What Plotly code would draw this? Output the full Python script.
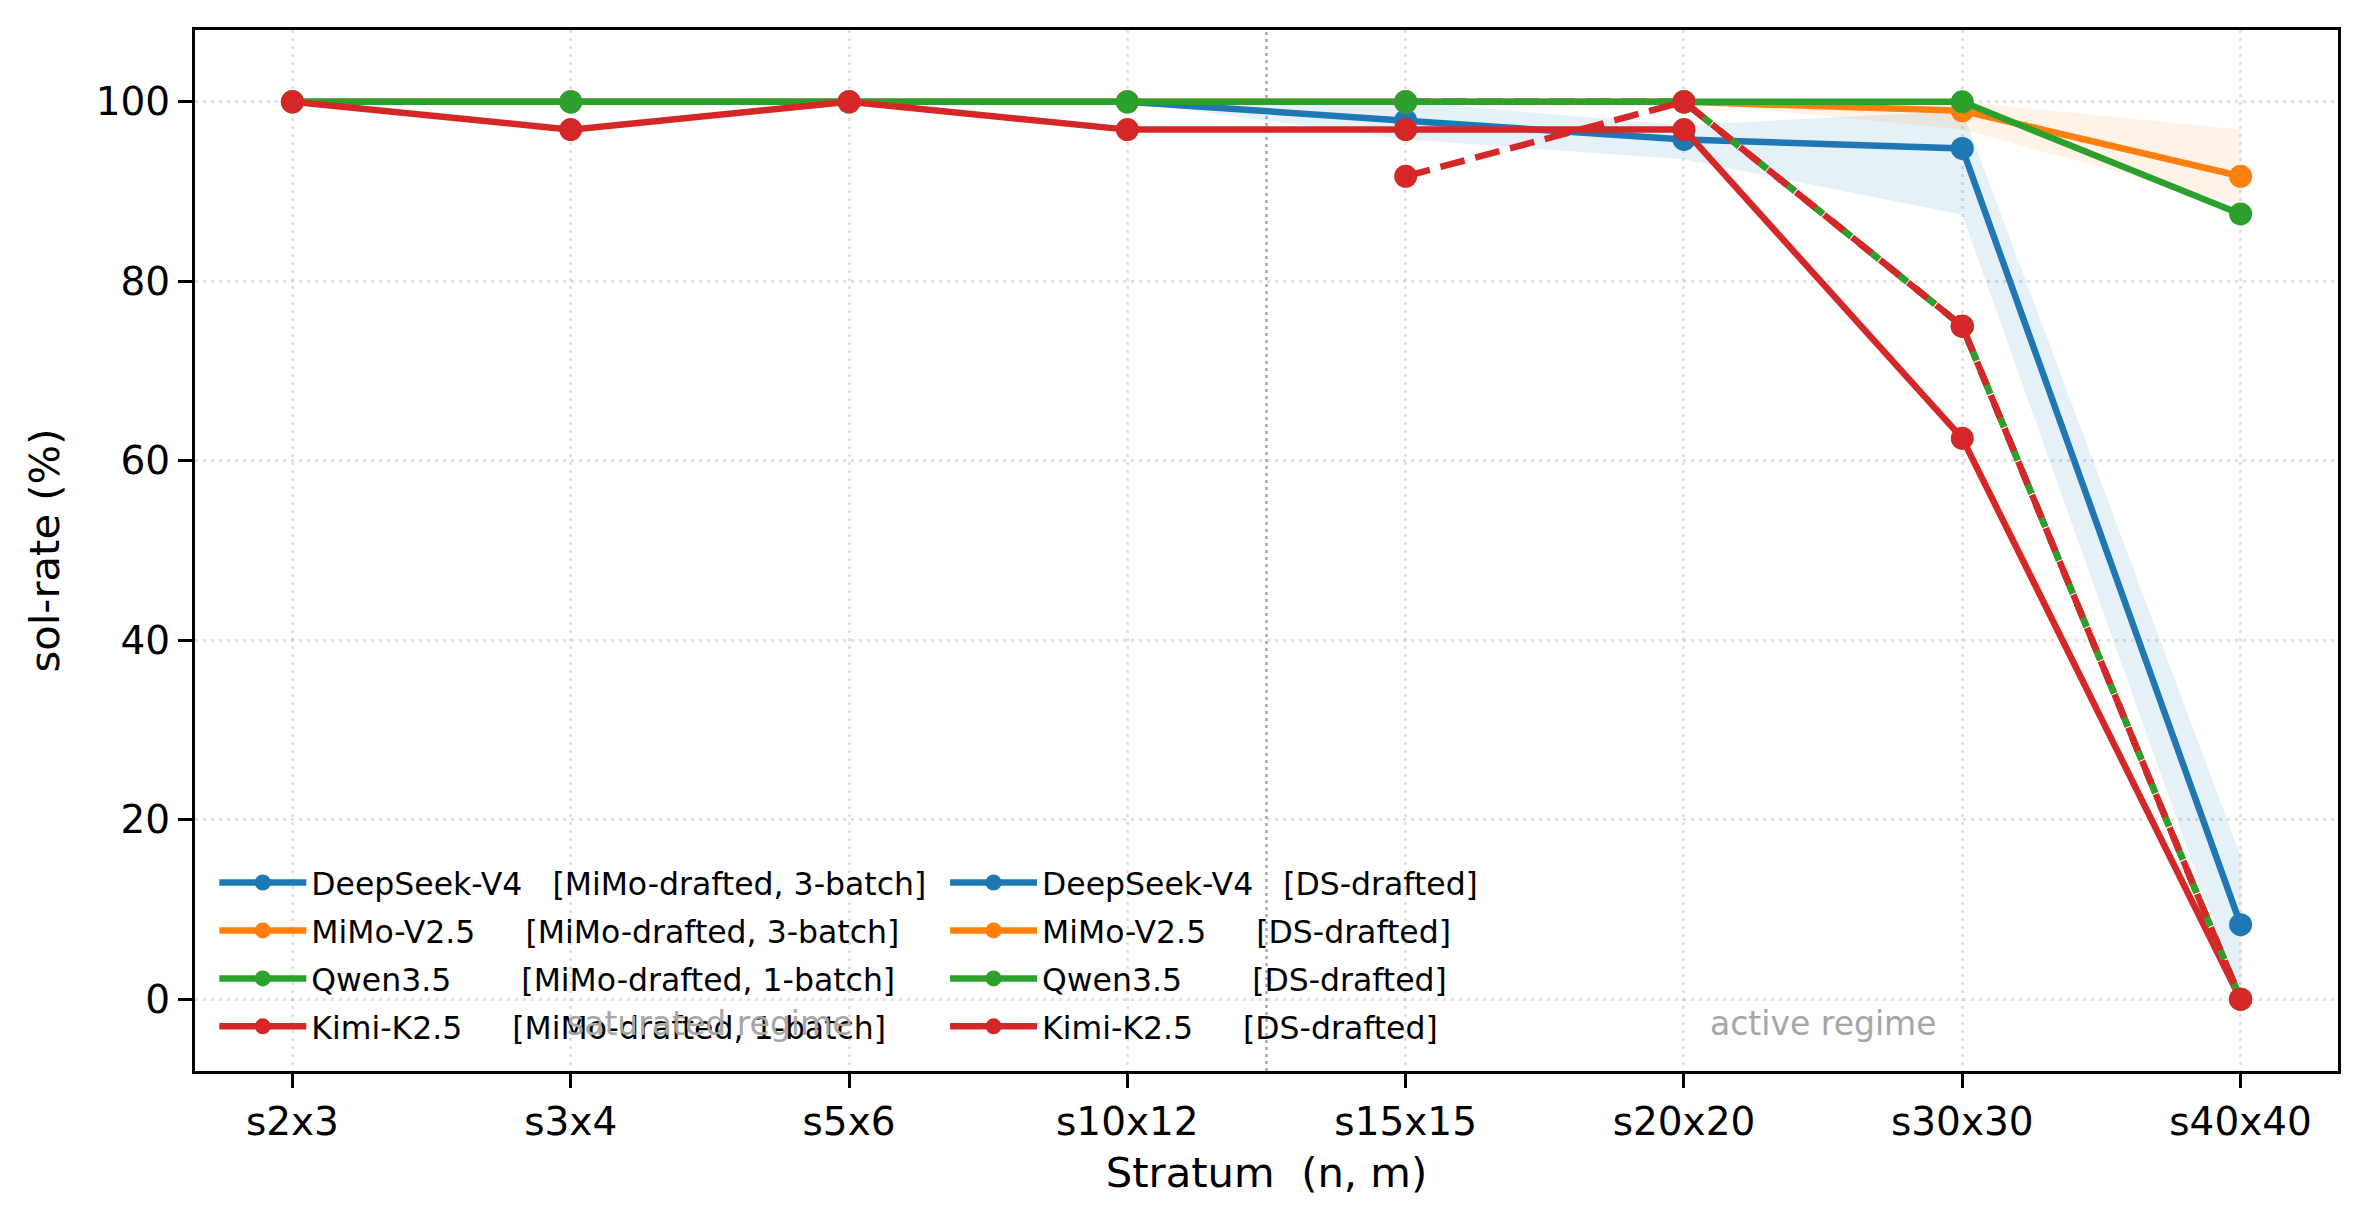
import plotly.graph_objects as go

# ---------------- data ----------------
strata = ["s2x3", "s3x4", "s5x6", "s10x12", "s15x15", "s20x20", "s30x30", "s40x40"]

# MiMo-drafted (solid)
deepseek_mimo = [100, 100, 100, 100, 97.9, 95.8, 94.8, 8.3]
mimo_mimo = [100, 100, 100, 100, 100, 100, 99.0, 91.7]
qwen_mimo = [100, 100, 100, 100, 100, 100, 100, 87.5]
kimi_mimo = [100, 96.9, 100, 96.9, 96.9, 96.9, 62.5, 0.0]

# spread bands for the 3-batch series
deepseek_lo = [100, 100, 100, 100, 95.8, 93.6, 87.4, 0.0]
deepseek_hi = [100, 100, 100, 100, 100, 97.4, 99.0, 16.0]
mimo_lo = [100, 100, 100, 100, 100, 100, 96.9, 88.5]
mimo_hi = [100, 100, 100, 100, 100, 100, 100, 96.9]

# DS-drafted (dashed)
deepseek_ds = [None, None, None, None, 100, 100, 75.0, 0.0]
mimo_ds = [None, None, None, None, 100, 100, 75.0, 0.0]
qwen_ds = [None, None, None, None, 100, 100, 75.0, 0.0]
kimi_ds = [None, None, None, None, 91.7, 100, 75.0, 0.0]

models = ["DeepSeek-V4", "MiMo-V2.5", "Qwen3.5", "Kimi-K2.5"]
mimo_tags = ["[MiMo-drafted, 3-batch]", "[MiMo-drafted, 3-batch]",
             "[MiMo-drafted, 1-batch]", "[MiMo-drafted, 1-batch]"]
ds_tag = "[DS-drafted]"
colors = ["#1f77b4", "#ff7f0e", "#2ca02c", "#d62728"]
band_fill = ["rgba(31,119,180,0.11)", "rgba(255,127,14,0.10)"]

y_ticks = [0, 20, 40, 60, 80, 100]

FONT = "DejaVu Sans"
LW = 6.5
MS = 23
NB = "\u00a0"


def pad(name):
    return name + NB * (14 - len(name))


fig = go.Figure()

# bands
for lo, hi, fc in [(deepseek_lo, deepseek_hi, band_fill[0]), (mimo_lo, mimo_hi, band_fill[1])]:
    fig.add_trace(go.Scatter(x=strata, y=lo, mode="lines", line=dict(width=0, color=fc),
                             showlegend=False, hoverinfo="skip"))
    fig.add_trace(go.Scatter(x=strata, y=hi, mode="lines", line=dict(width=0, color=fc),
                             fill="tonexty", fillcolor=fc, showlegend=False, hoverinfo="skip"))

# solid series
solid = [deepseek_mimo, mimo_mimo, qwen_mimo, kimi_mimo]
for name, tag, vals, c in zip(models, mimo_tags, solid, colors):
    fig.add_trace(go.Scatter(
        x=strata, y=vals, mode="lines+markers",
        name=pad(name) + tag, legend="legend", legendgroup=name + "m",
        line=dict(color=c, width=LW), marker=dict(color=c, size=MS)))

# dashed series
dashed = [deepseek_ds, mimo_ds, qwen_ds, kimi_ds]
for name, vals, c in zip(models, dashed, colors):
    fig.add_trace(go.Scatter(
        x=strata, y=vals, mode="lines+markers", showlegend=False,
        line=dict(color=c, width=LW, dash="25px,11px"), marker=dict(color=c, size=MS)))
    # legend handle (solid, as in the reference)
    fig.add_trace(go.Scatter(
        x=[None], y=[None], mode="lines+markers",
        name=pad(name) + ds_tag, legend="legend2", legendgroup=name + "d",
        line=dict(color=c, width=LW), marker=dict(color=c, size=MS)))

# regime separator
fig.add_shape(type="line", xref="x", yref="paper", x0=3.5, x1=3.5, y0=0, y1=1,
              line=dict(color="#a8a8a8", width=2.5, dash="3px,4px"), layer="below")

fig.add_annotation(x=1.5, y=-2.7, xref="x", yref="y", text="saturated regime",
                   showarrow=False, font=dict(family=FONT, size=33, color="#a6a6a6"))
fig.add_annotation(x=5.5, y=-2.7, xref="x", yref="y", text="active regime",
                   showarrow=False, font=dict(family=FONT, size=33, color="#a6a6a6"))

legend_common = dict(
    bgcolor="rgba(0,0,0,0)", borderwidth=0,
    font=dict(family=FONT, size=31.5, color="black"),
    orientation="v", xanchor="left", yanchor="top",
    tracegroupgap=4, itemwidth=87, traceorder="grouped",
)

fig.update_layout(
    width=2369, height=1230,
    margin=dict(l=195, r=31, t=30, b=159),
    paper_bgcolor="white", plot_bgcolor="white",
    font=dict(family=FONT, color="black"),
    legend=dict(x=0.009, y=0.207, **legend_common),
    legend2=dict(x=0.350, y=0.207, **legend_common),
    xaxis=dict(
        type="category", categoryorder="array", categoryarray=strata,
        range=[-0.35, 7.35],
        showline=True, mirror=True, linecolor="black", linewidth=3,
        ticks="outside", ticklen=14, tickwidth=3, tickcolor="black",
        tickfont=dict(family=FONT, size=39, color="black"),
        showgrid=True, gridcolor="rgba(170,170,170,0.35)", gridwidth=2.5, griddash="3px,5px",
        title=dict(text="Stratum" + NB + NB + "(n, m)", font=dict(family=FONT, size=41.7),
                   standoff=16),
    ),
    yaxis=dict(
        range=[-8, 108], tickvals=y_ticks,
        showline=True, mirror=True, linecolor="black", linewidth=3,
        ticks="outside", ticklen=14, tickwidth=3, tickcolor="black",
        tickfont=dict(family=FONT, size=39, color="black"),
        showgrid=True, gridcolor="rgba(170,170,170,0.35)", gridwidth=2.5, griddash="3px,5px",
        zeroline=False,
        title=dict(text="sol-rate (%)", font=dict(family=FONT, size=41.7), standoff=24),
    ),
)

fig.write_html("out.html")
